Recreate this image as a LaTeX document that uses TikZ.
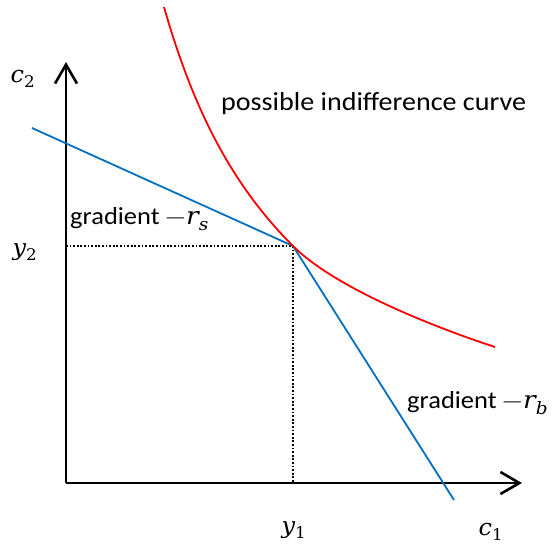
\documentclass[tikz,border=0pt]{standalone}
\usepackage{fontspec}
\usepackage{unicode-math}
\setmainfont{Carlito}
\setmathfont{Latin Modern Math}
\setmathfont{DejaVu Serif Italic}[range=it->up]
\setmathfont{DejaVu Serif}[range=up/num]
\usetikzlibrary{arrows.meta}
\newcommand{\wide}[1]{\scalebox{1.08}[1]{#1}}
\newcommand{\mwide}[1]{\scalebox{1.04}[1]{#1}}
\AtBeginDocument{\sbox0{$x_1$}}
\begin{document}
\begin{tikzpicture}[x=1pt,y=-1pt,
  axis/.style={line width=2.6pt,-{Straight Barb[length=19pt,width=22pt,line width=2.6pt]}},
  budget/.style={line width=1.8pt,draw={rgb,255:red,0;green,112;blue,192},line join=miter},
  indiff/.style={line width=1.8pt,draw={rgb,255:red,255;green,0;blue,0}},
  guide/.style={line width=1.6pt,dash pattern=on 1.8pt off 1.8pt},
  lbl/.style={font=\fontsize{24.5}{29}\selectfont,inner sep=0pt},
  biglbl/.style={font=\fontsize{26}{31}\selectfont,inner sep=0pt},
  mlbl/.style={font=\fontsize{23}{28}\selectfont,inner sep=0pt}]
\useasboundingbox (0,0) rectangle (555,549);
\coordinate (O) at (66,483);
\coordinate (xend) at (522,483);
\coordinate (yend) at (66,62);
\coordinate (K) at (293,246);
\coordinate (Y2) at (66,246);
\coordinate (Y1) at (293,483);
\coordinate (bs) at (32,128);
\coordinate (be) at (454,500);
\coordinate (ct) at (164,7);
\coordinate (ce) at (495,347);
% guides
\draw[guide] (Y2) -- (K);
\draw[guide] (K) -- (Y1);
% axes
\draw[axis] (O) -- (xend);
\draw[axis] (O) -- (yend);
% budget line
\draw[budget] (bs) -- (K) -- (be);
% indifference curve
\draw[indiff] (ct) .. controls (194,112) and (233,186) .. (K)
  .. controls (333,286) and (425,324) .. (ce);
% labels
\node[mlbl] (c2) at (23,79) {\mwide{$c_2$}};
\node[mlbl] (y2) at (25,252) {\mwide{$y_2$}};
\node[mlbl] (y1) at (294,530) {\mwide{$y_1$}};
\node[mlbl] (c1) at (491,532) {\mwide{$c_1$}};
\node[biglbl,anchor=base west] (pic) at (221,110) {\wide{possible indifference curve}};
\node[lbl,anchor=base west] (gs) at (70,224) {\wide{gradient $-r_s$}};
\node[lbl,anchor=base west] (gb) at (407,408) {\wide{gradient $-r_b$}};
\end{tikzpicture}
\end{document}
